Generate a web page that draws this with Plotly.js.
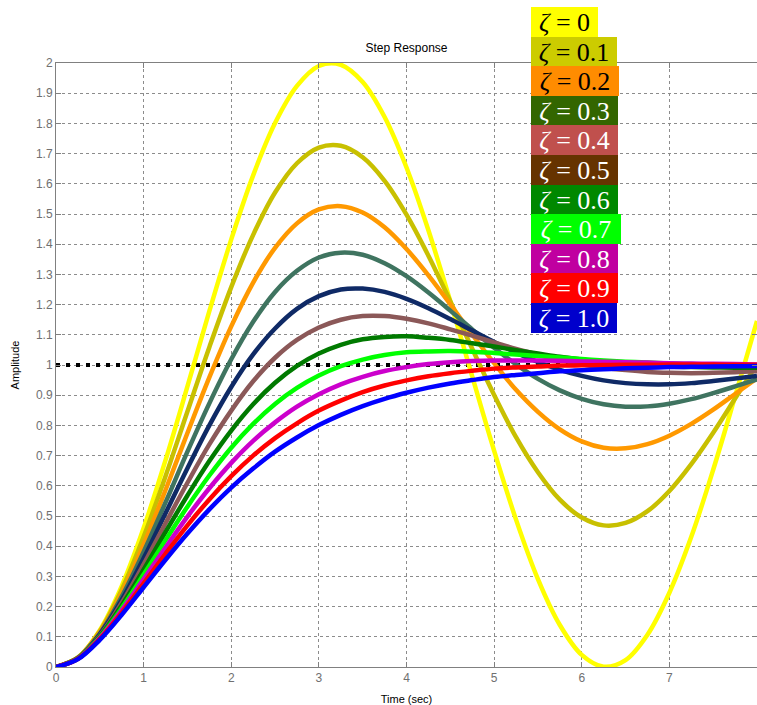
<!DOCTYPE html>
<html>
<head>
<meta charset="utf-8">
<script src="https://cdn.plot.ly/plotly-3.0.1.min.js"></script>
<style>html,body{margin:0;padding:0;background:#fff;}#chart{width:757px;height:705px;}</style>
</head>
<body>
<div id="chart"></div>
<script>
// Time samples (sec)
const t = [0, 0.25, 0.5, 0.75, 1, 1.25, 1.5, 1.75, 2, 2.25, 2.5, 2.75, 3, 3.25, 3.5, 3.75, 4,
           4.25, 4.5, 4.75, 5, 5.25, 5.5, 5.75, 6, 6.25, 6.5, 6.75, 7, 7.25, 7.5, 7.75, 8];

// Step response amplitude, one series per damping ratio
const yZeta00 = [0, 0.031, 0.122, 0.268, 0.460, 0.685, 0.929, 1.178, 1.416, 1.628, 1.801, 1.924, 1.990, 1.994, 1.937, 1.821, 1.654, 1.446, 1.211, 0.962, 0.716, 0.488, 0.291, 0.139, 0.040, 0.001, 0.023, 0.107, 0.246, 0.431, 0.653, 0.896, 1.146];
const yZeta01 = [0, 0.031, 0.118, 0.256, 0.431, 0.632, 0.846, 1.059, 1.258, 1.431, 1.571, 1.668, 1.720, 1.726, 1.688, 1.610, 1.498, 1.362, 1.211, 1.054, 0.901, 0.761, 0.645, 0.554, 0.495, 0.469, 0.477, 0.516, 0.583, 0.672, 0.776, 0.889, 1.003];
const yZeta02 = [0, 0.030, 0.115, 0.244, 0.405, 0.586, 0.775, 0.959, 1.128, 1.273, 1.388, 1.469, 1.515, 1.526, 1.505, 1.456, 1.384, 1.297, 1.201, 1.101, 1.006, 0.918, 0.845, 0.787, 0.747, 0.726, 0.724, 0.738, 0.766, 0.805, 0.852, 0.904, 0.956];
const yZeta03 = [0, 0.030, 0.111, 0.233, 0.381, 0.545, 0.713, 0.873, 1.019, 1.143, 1.242, 1.312, 1.356, 1.372, 1.365, 1.337, 1.294, 1.240, 1.180, 1.118, 1.057, 1.002, 0.954, 0.916, 0.888, 0.870, 0.862, 0.863, 0.872, 0.887, 0.907, 0.929, 0.952];
const yZeta04 = [0, 0.029, 0.108, 0.222, 0.360, 0.509, 0.658, 0.800, 0.927, 1.035, 1.121, 1.186, 1.228, 1.250, 1.253, 1.242, 1.219, 1.188, 1.152, 1.114, 1.076, 1.041, 1.010, 0.984, 0.964, 0.949, 0.940, 0.936, 0.936, 0.940, 0.947, 0.955, 0.964];
const yZeta05 = [0, 0.029, 0.104, 0.213, 0.340, 0.476, 0.610, 0.737, 0.849, 0.946, 1.024, 1.083, 1.124, 1.150, 1.162, 1.162, 1.153, 1.138, 1.118, 1.097, 1.075, 1.053, 1.034, 1.017, 1.002, 0.991, 0.983, 0.977, 0.974, 0.973, 0.974, 0.976, 0.979];
const yZeta06 = [0, 0.028, 0.101, 0.204, 0.322, 0.447, 0.568, 0.682, 0.783, 0.870, 0.941, 0.997, 1.038, 1.067, 1.085, 1.093, 1.095, 1.090, 1.083, 1.072, 1.061, 1.049, 1.038, 1.027, 1.018, 1.010, 1.004, 0.999, 0.995, 0.993, 0.992, 0.991, 0.991];
const yZeta07 = [0, 0.028, 0.098, 0.195, 0.306, 0.420, 0.531, 0.634, 0.726, 0.805, 0.871, 0.924, 0.965, 0.996, 1.018, 1.033, 1.042, 1.045, 1.046, 1.044, 1.040, 1.035, 1.030, 1.025, 1.020, 1.015, 1.011, 1.008, 1.005, 1.003, 1.001, 1.000, 0.999];
const yZeta08 = [0, 0.027, 0.096, 0.188, 0.291, 0.396, 0.498, 0.592, 0.676, 0.749, 0.810, 0.862, 0.903, 0.936, 0.961, 0.980, 0.993, 1.003, 1.009, 1.013, 1.015, 1.015, 1.015, 1.014, 1.012, 1.011, 1.009, 1.008, 1.006, 1.005, 1.004, 1.003, 1.002];
const yZeta09 = [0, 0.027, 0.093, 0.180, 0.277, 0.375, 0.469, 0.555, 0.632, 0.700, 0.758, 0.807, 0.849, 0.882, 0.910, 0.932, 0.949, 0.963, 0.973, 0.981, 0.988, 0.992, 0.995, 0.998, 0.999, 1.000, 1.001, 1.001, 1.0015, 1.0015, 1.0015, 1.001, 1.001];
const yZeta10 = [0, 0.026, 0.090, 0.173, 0.264, 0.355, 0.442, 0.522, 0.594, 0.657, 0.713, 0.760, 0.801, 0.835, 0.864, 0.888, 0.908, 0.925, 0.939, 0.950, 0.960, 0.967, 0.973, 0.979, 0.983, 0.986, 0.989, 0.991, 0.993, 0.994, 0.995, 0.996, 0.997];

// Final value reference line
const refX = [0, 8];
const refY = [1, 1];

// Legend labels and colours
const zetaLabels = ["0", "0.1", "0.2", "0.3", "0.4", "0.5", "0.6", "0.7", "0.8", "0.9", "1.0"];
const lineColors = ["#ffff00", "#c8c000", "#ff9900", "#3f7460", "#0f2a66", "#8b5858", "#007a00", "#00ff00", "#cc00cc", "#ff0000", "#0000ff"];
const boxColors  = ["#ffff00", "#cccc00", "#ff8c00", "#336600", "#c0504d", "#663300", "#008800", "#00ff00", "#c000a0", "#ff0000", "#0000cc"];
const textColors = ["#000000", "#000000", "#000000", "#ffffff", "#ffffff", "#ffffff", "#ffffff", "#ffffff", "#ffffff", "#ffffff", "#ffffff"];
const boxWidths  = [67, 86, 88, 87, 87, 87, 87, 90, 87, 87, 86];

const series = [yZeta00, yZeta01, yZeta02, yZeta03, yZeta04, yZeta05, yZeta06, yZeta07, yZeta08, yZeta09, yZeta10];

const traces = [{
  x: refX, y: refY, mode: 'lines', hoverinfo: 'skip', showlegend: false,
  line: {color: '#000000', width: 4, dash: '4px,6px'}
}];
series.forEach((ys, i) => {
  traces.push({
    x: t, y: ys, mode: 'lines', name: 'ζ = ' + zetaLabels[i], showlegend: false,
    line: {color: lineColors[i], width: 4.5, shape: 'spline', smoothing: 1}
  });
});

// plot area in px: x 56..757, y 63..667
const PL = 56, PR = 757, PT = 63, PB = 667;
const pw = PR - PL, ph = PB - PT;
const annotations = zetaLabels.map((lab, i) => {
  const top = 7 + i * 29.6;
  return {
    xref: 'paper', yref: 'paper',
    x: (531 - PL) / pw, y: (PB - top) / ph,
    xanchor: 'left', yanchor: 'top',
    text: '<i>ζ</i> = ' + lab,
    showarrow: false,
    bgcolor: boxColors[i], borderpad: 0, borderwidth: 0,
    width: boxWidths[i], height: 30, align: 'center', valign: 'middle',
    font: {family: '"Liberation Serif", "Times New Roman", serif', size: 26, color: textColors[i]}
  };
});

const tickFont = {family: 'Arial, "Liberation Sans", sans-serif', size: 12, color: '#707070'};
const layout = {
  width: 757, height: 705,
  margin: {l: PL, r: 757 - PR, t: PT, b: 705 - PB},
  paper_bgcolor: '#ffffff', plot_bgcolor: '#ffffff',
  title: {text: 'Step Response', font: {family: 'Arial, "Liberation Sans", sans-serif', size: 12, color: '#000000'},
          xref: 'paper', x: 0.5, xanchor: 'center', yref: 'container', y: 1 - 48 / 705, yanchor: 'middle'},
  xaxis: {
    range: [0, 8], tick0: 0, dtick: 1, tickfont: tickFont,
    showline: true, linecolor: '#808080', linewidth: 1, mirror: 'ticks',
    ticks: 'inside', ticklen: 5, tickcolor: '#808080',
    showgrid: true, gridcolor: '#8c8c8c', gridwidth: 1, griddash: '3px,3px',
    zeroline: false, fixedrange: true,
    title: {text: 'Time (sec)', font: {family: 'Arial, "Liberation Sans", sans-serif', size: 11, color: '#000000'}, standoff: 12}
  },
  yaxis: {
    range: [0, 2], tick0: 0, dtick: 0.1, tickfont: tickFont,
    showline: true, linecolor: '#808080', linewidth: 1, mirror: 'ticks',
    ticks: 'inside', ticklen: 5, tickcolor: '#808080',
    showgrid: true, gridcolor: '#8c8c8c', gridwidth: 1, griddash: '3px,3px',
    zeroline: false, fixedrange: true,
    title: {text: 'Amplitude', font: {family: 'Arial, "Liberation Sans", sans-serif', size: 11, color: '#000000'}, standoff: 14}
  },
  annotations: annotations,
  showlegend: false
};

Plotly.newPlot('chart', traces, layout, {displayModeBar: false, staticPlot: true});
</script>
</body>
</html>
